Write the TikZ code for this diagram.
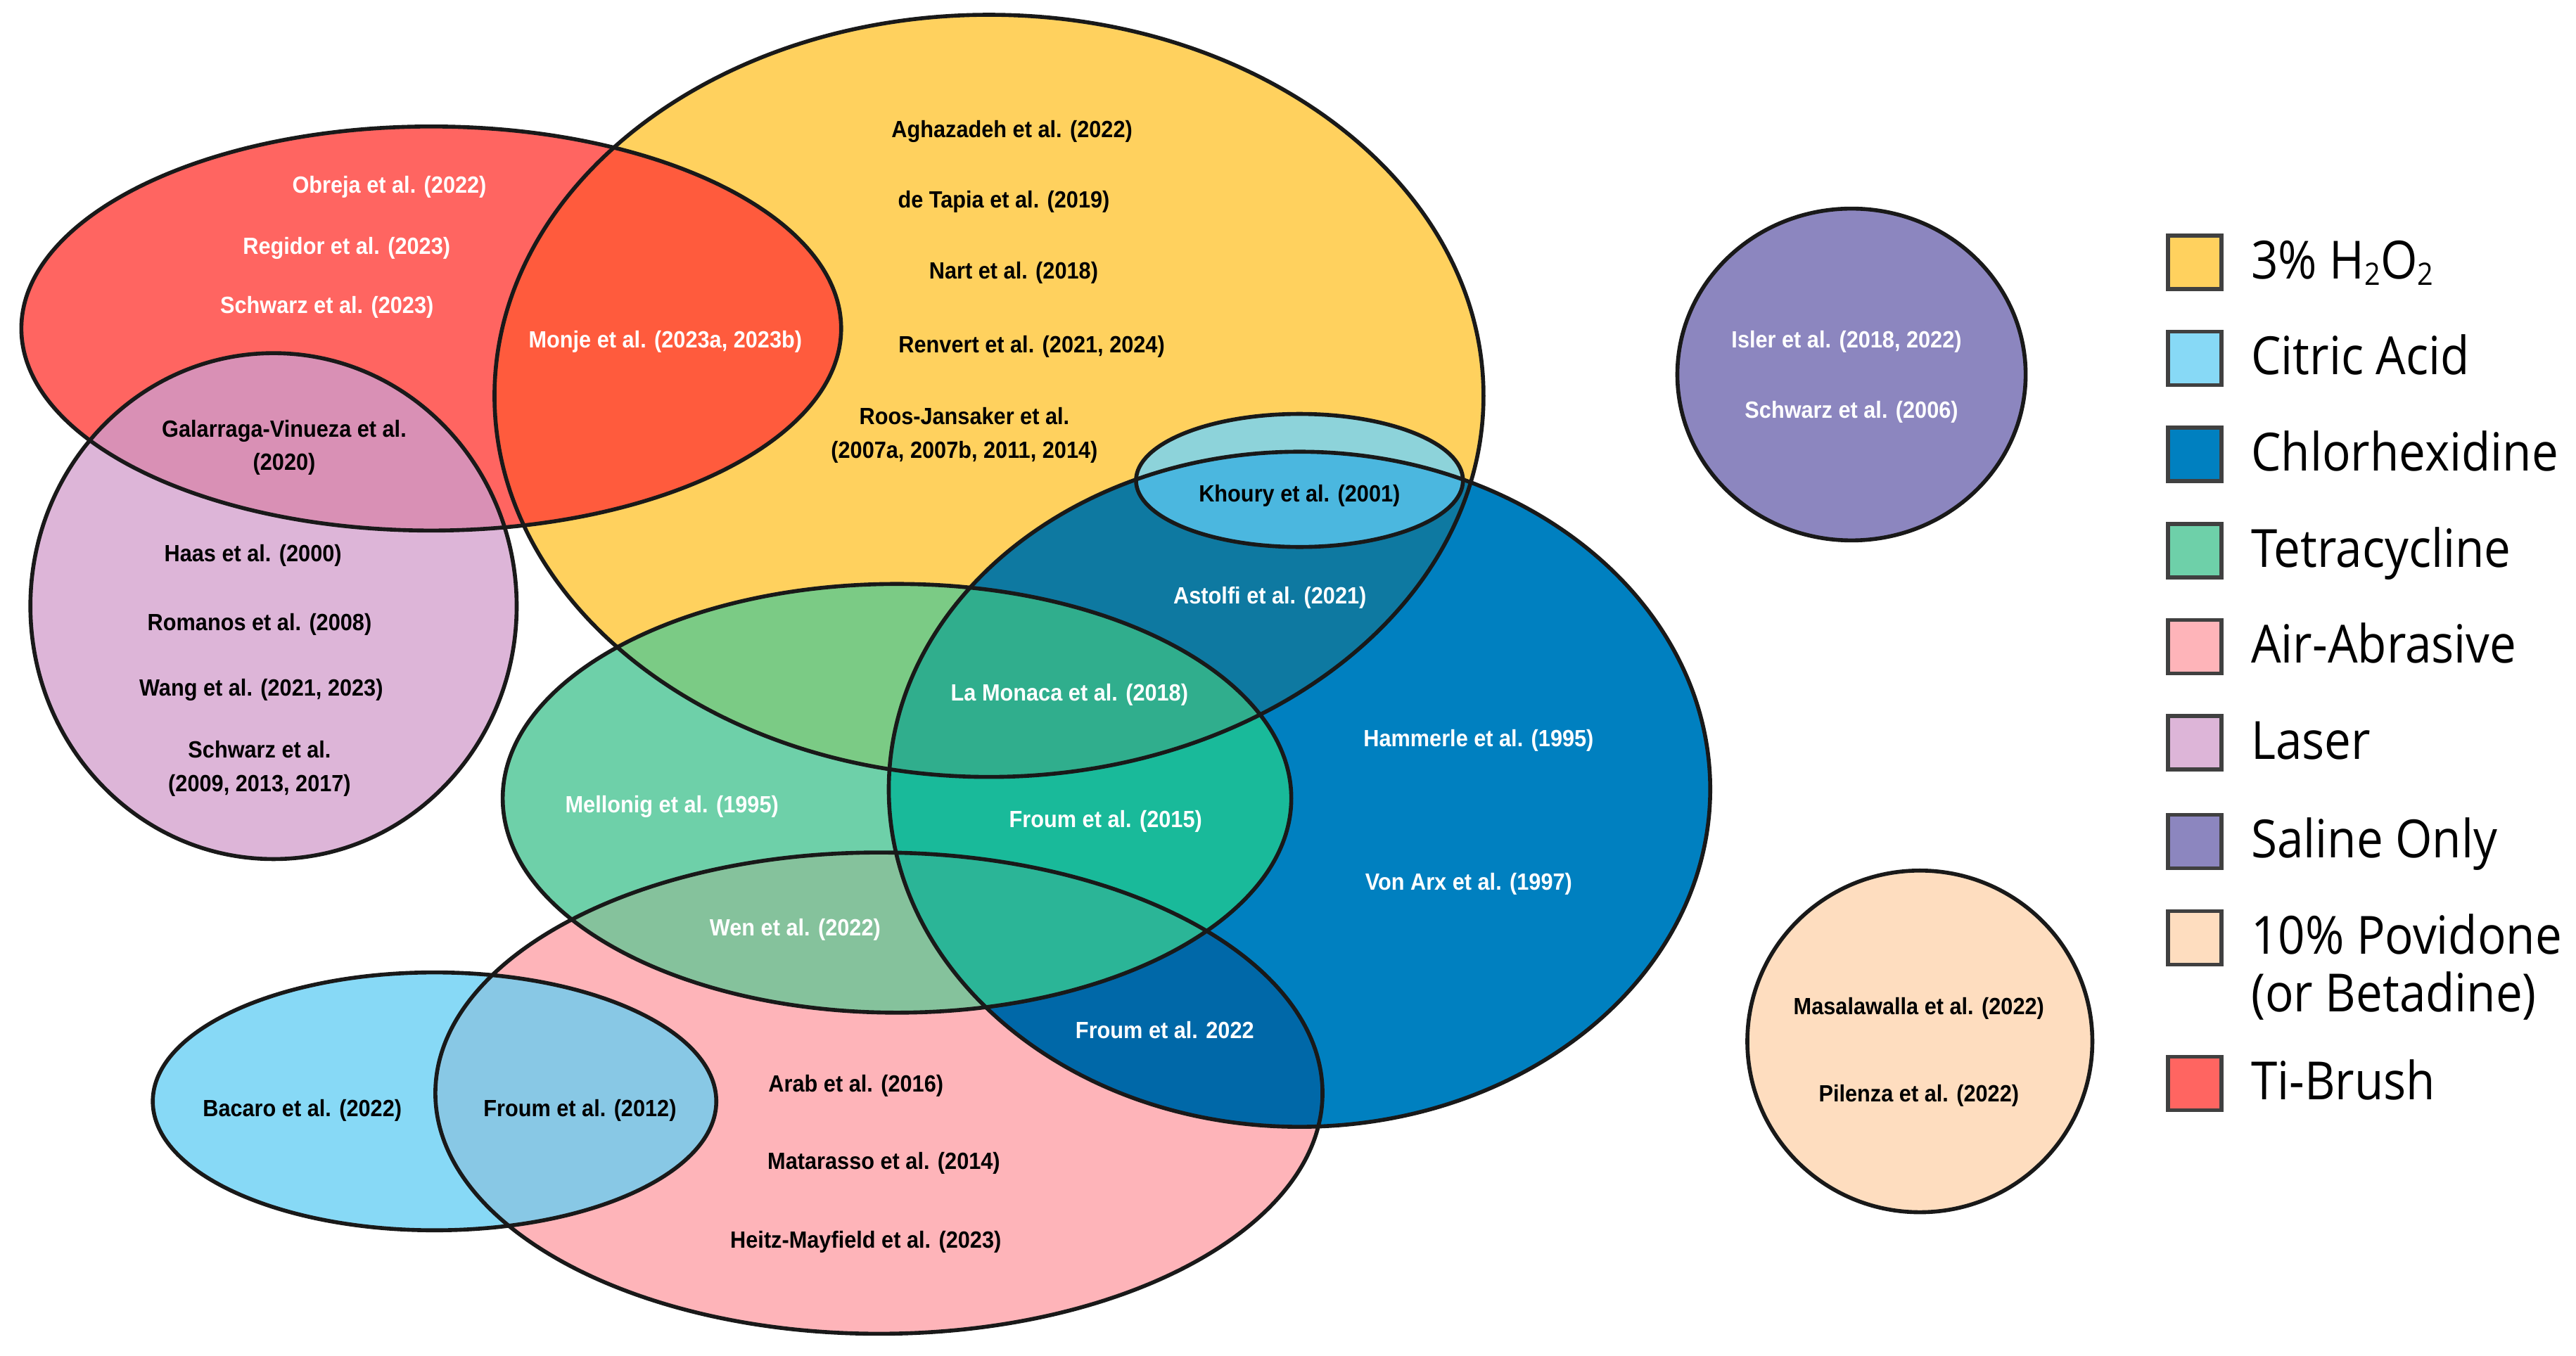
\documentclass[tikz,border=0pt]{standalone}
\usepackage{fontspec}
\newfontfamily\reffont[FakeStretch=0.92]{Liberation Sans}
\newfontfamily\legfont[FakeStretch=0.9]{Open Sans}

\definecolor{hydro}{HTML}{FFD15E}
\definecolor{citric}{HTML}{87D9F6}
\definecolor{chlor}{HTML}{0080C0}
\definecolor{tetra}{HTML}{6ED0A9}
\definecolor{abras}{HTML}{FEB4B9}
\definecolor{laser}{HTML}{DDB5D8}
\definecolor{saline}{HTML}{8C86BF}
\definecolor{povid}{HTML}{FEDDBF}
\definecolor{tibrush}{HTML}{FF6561}
\definecolor{tiHy}{HTML}{FF5B3D}
\definecolor{tiLa}{HTML}{D990B5}
\definecolor{chHy}{HTML}{0E79A1}
\definecolor{ciHy}{HTML}{8DD3DA}
\definecolor{ciHyCh}{HTML}{4BB7DF}
\definecolor{abCh}{HTML}{0068A8}
\definecolor{teHy}{HTML}{7BCB85}
\definecolor{teCh}{HTML}{19BA9A}
\definecolor{teHyCh}{HTML}{30AE8D}
\definecolor{teAb}{HTML}{85C29C}
\definecolor{teAbCh}{HTML}{2BB597}
\definecolor{ciAb}{HTML}{88C8E5}

\newcommand{\hydroset}{(602,241) ellipse [x radius=301, y radius=232]}
\newcommand{\tiset}{(262.5,200) ellipse [x radius=249.5, y radius=123]}
\newcommand{\laserset}{(166.5,369) ellipse [x radius=148, y radius=154]}
\newcommand{\chlorset}{(791,480.5) ellipse [x radius=250, y radius=205.5]}
\newcommand{\khouryset}{(791,292.5) ellipse [x radius=99.5, y radius=40.5]}
\newcommand{\tetraset}{(546,486) ellipse [x radius=240, y radius=130.5]}
\newcommand{\abrasset}{(535,665.5) ellipse [x radius=270, y radius=146.5]}
\newcommand{\citricset}{(264.5,670.5) ellipse [x radius=171.5, y radius=78.5]}
\newcommand{\salineset}{(1127,228) ellipse [x radius=106, y radius=101]}
\newcommand{\povidset}{(1168.6,634) ellipse [x radius=105, y radius=104]}
\newcommand{\subtwo}{\raisebox{-0.12em}{\fontsize{12.5}{12.5}\selectfont 2}}

\begin{document}
\begin{tikzpicture}[x=0.023355cm, y=-0.023355cm,
    ring/.style = {draw=black!90, line width=1.6pt},
    wlab/.style = {text=white, inner sep=0pt, align=center,
                   font=\reffont\bfseries\fontsize{9.5}{13.5}\selectfont},
    blab/.style = {wlab, text=black},
    keybox/.style = {draw=black!75, line width=1.6pt, minimum size=0.76cm, inner sep=0pt},
    keytext/.style = {anchor=base west, inner sep=0pt, align=left,
                      font=\legfont\fontsize{21.3}{23.3}\selectfont}]
\useasboundingbox (0,0) rectangle (1568,825.5);

\fill[hydro] \hydroset;
\fill[tibrush] \tiset;
\begin{scope} \clip \tiset; \fill[tiHy] \hydroset; \end{scope}
\fill[laser] \laserset;
\begin{scope} \clip \laserset; \fill[tiLa] \tiset; \end{scope}
\fill[chlor] \chlorset;
\begin{scope} \clip \chlorset; \fill[chHy] \hydroset; \end{scope}
\fill[ciHy] \khouryset;
\begin{scope} \clip \khouryset; \fill[ciHyCh] \chlorset; \end{scope}
\fill[abras] \abrasset;
\begin{scope} \clip \abrasset; \fill[abCh] \chlorset; \end{scope}
\fill[tetra] \tetraset;
\begin{scope} \clip \tetraset; \fill[teHy] \hydroset; \end{scope}
\begin{scope} \clip \tetraset; \fill[teCh] \chlorset; \end{scope}
\begin{scope} \clip \tetraset; \clip \hydroset; \fill[teHyCh] \chlorset; \end{scope}
\begin{scope} \clip \tetraset; \fill[teAb] \abrasset; \end{scope}
\begin{scope} \clip \tetraset; \clip \abrasset; \fill[teAbCh] \chlorset; \end{scope}
\fill[citric] \citricset;
\begin{scope} \clip \citricset; \fill[ciAb] \abrasset; \end{scope}
\fill[saline] \salineset;
\fill[povid] \povidset;

\draw[ring] \hydroset;
\draw[ring] \tiset;
\draw[ring] \laserset;
\draw[ring] \chlorset;
\draw[ring] \khouryset;
\draw[ring] \tetraset;
\draw[ring] \abrasset;
\draw[ring] \citricset;
\draw[ring] \salineset;
\draw[ring] \povidset;

\node[wlab] (obreja) at (237,114) {Obreja et al. (2022)};
\node[wlab] (regidor) at (211,151) {Regidor et al. (2023)};
\node[wlab] (schwarzA) at (199,187) {Schwarz et al. (2023)};
\node[wlab] (monje) at (405,208) {Monje et al. (2023a, 2023b)};
\node[blab] (galarraga) at (173,272.5) {Galarraga-Vinueza et al.\\(2020)};
\node[blab] (haas) at (154,338) {Haas et al. (2000)};
\node[blab] (romanos) at (158,380) {Romanos et al. (2008)};
\node[blab] (wang) at (159,420) {Wang et al. (2021, 2023)};
\node[blab] (schwarzB) at (158,468) {Schwarz et al.\\(2009, 2013, 2017)};
\node[blab] (aghazadeh) at (616,80) {Aghazadeh et al. (2022)};
\node[blab] (detapia) at (611,123) {de Tapia et al. (2019)};
\node[blab] (nart) at (617,166) {Nart et al. (2018)};
\node[blab] (renvert) at (628,211) {Renvert et al. (2021, 2024)};
\node[blab] (roos) at (587,265) {Roos-Jansaker et al.\\(2007a, 2007b, 2011, 2014)};
\node[blab] (khoury) at (791,302) {Khoury et al. (2001)};
\node[wlab] (astolfi) at (773,364) {Astolfi et al. (2021)};
\node[wlab] (lamonaca) at (651,423) {La Monaca et al. (2018)};
\node[wlab] (hammerle) at (900,451) {Hammerle et al. (1995)};
\node[wlab] (mellonig) at (409,491) {Mellonig et al. (1995)};
\node[wlab] (froumA) at (673,500) {Froum et al. (2015)};
\node[wlab] (vonarx) at (894,538) {Von Arx et al. (1997)};
\node[wlab] (wen) at (484,566) {Wen et al. (2022)};
\node[wlab] (froumB) at (709,627) {Froum et al. 2022};
\node[blab] (bacaro) at (184,676) {Bacaro et al. (2022)};
\node[blab] (froumC) at (353,676) {Froum et al. (2012)};
\node[blab] (arab) at (521,661) {Arab et al. (2016)};
\node[blab] (matarasso) at (538,708) {Matarasso et al. (2014)};
\node[blab] (heitz) at (527,756) {Heitz-Mayfield et al. (2023)};
\node[wlab] (isler) at (1124,208) {Isler et al. (2018, 2022)};
\node[wlab] (schwarzC) at (1127,251) {Schwarz et al. (2006)};
\node[blab] (masala) at (1168,614) {Masalawalla et al. (2022)};
\node[blab] (pilenza) at (1168,667) {Pilenza et al. (2022)};

\node[keybox, fill=hydro] (keyhydro) at (1336,159.7) {};
\node[keytext] (txthydro) at (1370,169.7) {3\% H\subtwo O\subtwo};
\node[keybox, fill=citric] (keycitric) at (1336,218.2) {};
\node[keytext] (txtcitric) at (1370,228.2) {Citric Acid};
\node[keybox, fill=chlor] (keychlor) at (1336,276.7) {};
\node[keytext] (txtchlor) at (1370,286.7) {Chlorhexidine};
\node[keybox, fill=tetra] (keytetra) at (1336,335.2) {};
\node[keytext] (txttetra) at (1370,345.2) {Tetracycline};
\node[keybox, fill=abras] (keyabras) at (1336,393.7) {};
\node[keytext] (txtabras) at (1370,403.7) {Air-Abrasive};
\node[keybox, fill=laser] (keylaser) at (1336,452.2) {};
\node[keytext] (txtlaser) at (1370,462.2) {Laser};
\node[keybox, fill=saline] (keysaline) at (1336,512.3) {};
\node[keytext] (txtsaline) at (1370,522.3) {Saline Only};
\node[keybox, fill=povid] (keypovid) at (1336,571) {};
\node[keytext] (txtpovid) at (1370,616) {10\% Povidone\\(or Betadine)};
\node[keybox, fill=tibrush] (keyti) at (1336,659.6) {};
\node[keytext] (txtti) at (1370,669.6) {Ti-Brush};
\end{tikzpicture}
\end{document}
